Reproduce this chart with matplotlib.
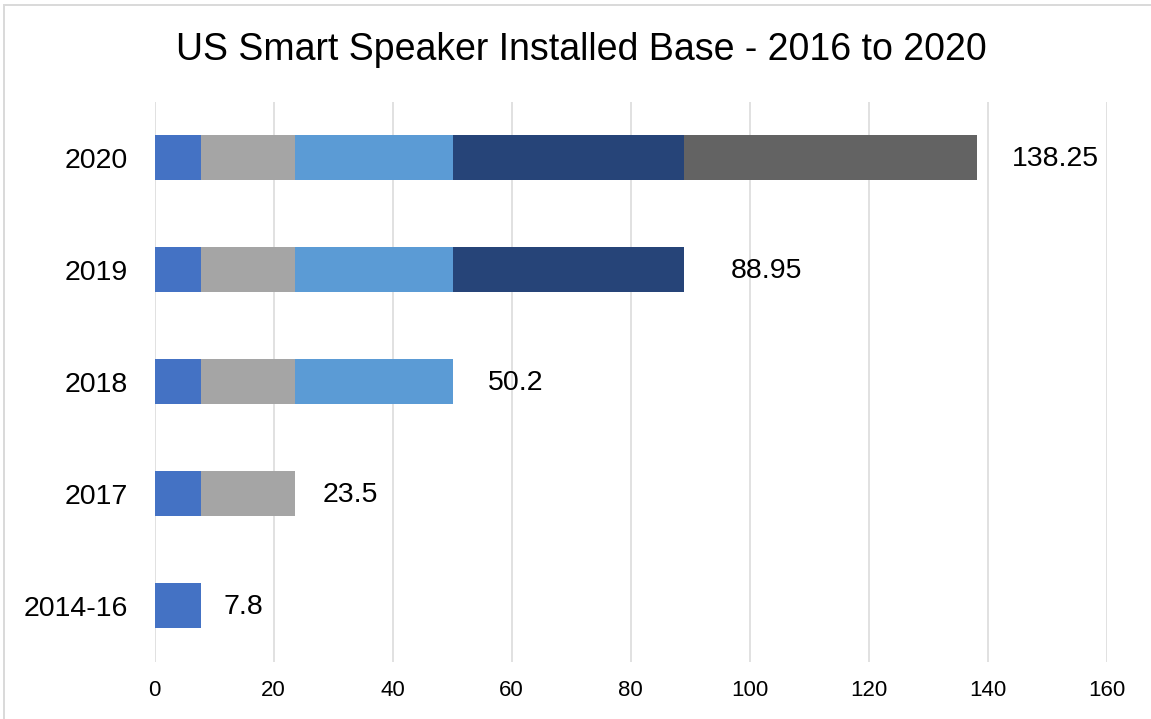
import matplotlib
matplotlib.use("Agg")
import matplotlib.pyplot as plt
import matplotlib.patches as patches
import numpy as np

plt.rcParams['font.family'] = ['Liberation Sans', 'DejaVu Sans']

# Data
years = ['2014-16', '2017', '2018', '2019', '2020']
totals = [7.8, 23.5, 50.2, 88.95, 138.25]
total_labels = ['7.8', '23.5', '50.2', '88.95', '138.25']
x_ticks = [0, 20, 40, 60, 80, 100, 120, 140, 160]

# Styles
seg_colors = ['#4472C4', '#A5A5A5', '#5B9BD5', '#264478', '#636363']
label_gap_px = [22, 28, 35, 47, 35]

W, H = 1151, 719
fig = plt.figure(figsize=(W / 100, H / 100), dpi=100)
ax = fig.add_axes([154.7 / W, 1 - 661.5 / H, 952 / W, 560 / H])

# each year's bar is the running total, split into yearly additions
starts = [0] + totals[:-1]
added = np.diff([0] + totals)
ypos = np.arange(len(years))
for j in range(len(years)):
    rows = ypos[j:]
    ax.barh(rows, added[j], left=starts[j], height=0.4,
            color=seg_colors[j], edgecolor='none', zorder=3)

# total labels at the bar ends
for i, t in enumerate(totals):
    ax.annotate(total_labels[i], xy=(t, ypos[i]), xytext=(label_gap_px[i], -1),
                textcoords='offset pixels', ha='left', va='center',
                fontsize=20.5, color='black', zorder=4)

ax.set_xlim(0, 160)
ax.set_ylim(-0.5, len(years) - 0.5)
ax.set_xticks(x_ticks)
ax.set_xticklabels([str(v) for v in x_ticks], fontsize=16)
ax.set_yticks(ypos)
ax.set_yticklabels(years, fontsize=20.5)
ax.tick_params(axis='x', length=0, pad=13.3)
ax.tick_params(axis='y', length=0, pad=19.4)
ax.grid(axis='x', color='#D9D9D9', linewidth=1.1, zorder=0)
ax.set_axisbelow(True)
for s in ax.spines.values():
    s.set_visible(False)

# title
fig.text(581 / W, 1 - 60 / H, 'US Smart Speaker Installed Base - 2016 to 2020',
         ha='center', va='baseline', fontsize=27, color='black')

# light chart border (cut off on right and bottom)
border = patches.Rectangle((3.8 / W, -0.1), 1.2, 1.1 - 4.5 / H,
                           transform=fig.transFigure, fill=False,
                           edgecolor='#D9D9D9', linewidth=1.4, clip_on=False)
fig.add_artist(border)

fig.savefig('out.png', dpi=100)
